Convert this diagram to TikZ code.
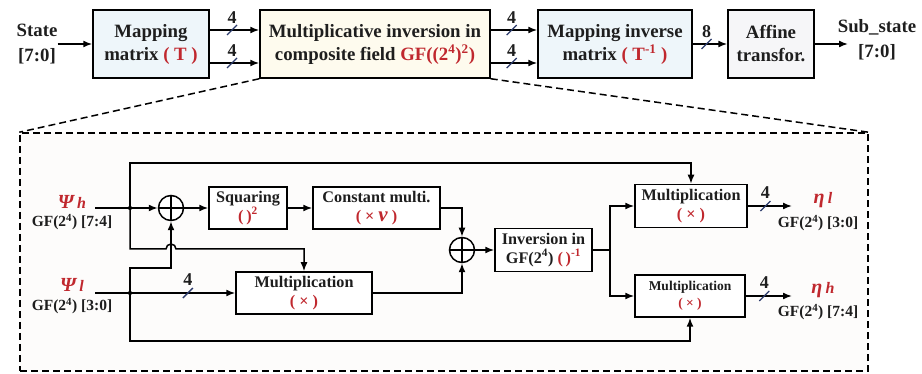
\documentclass[tikz,border=0pt]{standalone}
\usepackage{fontspec}
\setmainfont{Liberation Serif}
\usetikzlibrary{arrows.meta,calc}
\definecolor{myred}{HTML}{C0282E}
\definecolor{slashc}{HTML}{2B3A6B}
\definecolor{txt}{HTML}{1E1E1E}
\definecolor{fblue}{HTML}{EEF6FA}
\definecolor{fyel}{HTML}{FEFBEE}
\definecolor{fgray}{HTML}{F6F6F8}
\definecolor{fframe}{HTML}{FDFCFB}
\begin{document}
\begin{tikzpicture}[x=1pt,y=-1pt,
  topbox/.style={draw, line width=1.5pt, align=center, inner sep=0pt, text=txt, font=\fontsize{18.8}{23}\selectfont\bfseries},
  inbox/.style={draw, line width=1.5pt, align=center, inner sep=0pt, fill=white, text=txt, font=\fontsize{16.2}{18.5}\selectfont\bfseries},
  lbl/.style={align=center, inner sep=0pt, text=txt, font=\fontsize{18.8}{25}\selectfont\bfseries},
  gflbl/.style={inner sep=0pt, text=txt, font=\fontsize{15.5}{18}\selectfont\bfseries},
  greek/.style={inner sep=0pt, text=myred, font=\fontsize{20}{20}\selectfont\bfseries\itshape},
  wire/.style={line width=1.5pt},
  arr/.style={wire, -{Latex[length=9pt,width=7pt]}},
  xorn/.style={circle, draw, line width=1.5pt, minimum size=25pt, inner sep=0pt, fill=white,
     path picture={\draw[line width=1.5pt] (path picture bounding box.north) -- (path picture bounding box.south) (path picture bounding box.west) -- (path picture bounding box.east);}},
  junc/.style={circle, fill=black, inner sep=0pt, minimum size=4pt},
  busmark/.style={draw=slashc, line width=1.3pt},
  buslbl/.style={inner sep=0pt, text=txt, font=\fontsize{18}{18}\selectfont\bfseries},
  zoomfrm/.style={draw, line width=1.5pt, dash pattern=on 7pt off 4pt, fill=fframe},
  zoomdash/.style={line width=1.5pt, dash pattern=on 7pt off 4pt}
]
\useasboundingbox (0,0) rectangle (922,374);
% zoom frame
\node[zoomfrm, minimum width=848pt, minimum height=238pt] (zf) at (444,252) {};

% top row
\node[lbl] (st) at (37,44) {State\\{[7:0]}};
\node[topbox, fill=fblue, minimum width=116pt, minimum height=68pt] (T) at (151,44) {Mapping\\matrix \textcolor{myred}{( T )}};
\node[topbox, fill=fyel, minimum width=230pt, minimum height=68pt] (MI) at (375,44) {Multiplicative inversion in\\composite field \textcolor{myred}{GF((2\textsuperscript{4})\textsuperscript{2})}};
\node[topbox, fill=fblue, minimum width=154pt, minimum height=68pt] (TI) at (615,44) {Mapping inverse\\matrix \textcolor{myred}{( T\textsuperscript{-1} )}};
\node[topbox, fill=fgray, minimum width=86pt, minimum height=68pt] (AF) at (771,44) {Affine\\transfor.};
\node[lbl] (ss) at (877,40) {Sub\_state\\{[7:0]}};
\coordinate (ssin) at (848,44);
\coordinate (ya) at (0,30);
\coordinate (yb) at (0,63);

\draw[arr] (st.east) -- (T.west);
\draw[arr] (T.east |- ya) -- coordinate[pos=.45](s1) (MI.west |- ya);
\draw[arr] (T.east |- yb) -- coordinate[pos=.45](s2) (MI.west |- yb);
\draw[arr] (MI.east |- ya) -- coordinate[pos=.45](s7) (TI.west |- ya);
\draw[arr] (MI.east |- yb) -- coordinate[pos=.45](s8) (TI.west |- yb);
\draw[arr] (TI.east) -- coordinate[pos=.4](s3) (AF.west);
\draw[arr] (AF.east) -- (AF.east -| ssin);

\draw[zoomdash] (MI.south west) -- (zf.north west);
\draw[zoomdash] (MI.south east) -- (zf.north east);

% inner diagram
\node[greek] (ph) at (72,202) {Ψ\,{\fontsize{16}{16}\selectfont h}};
\node[gflbl] (phg) at (72,222) {GF(2\textsuperscript{4}) [7:4]};
\coordinate (phin) at (95,208);
\node[junc] (d1) at (130,208) {};
\node[xorn] (x1) at (171,208) {};
\node[inbox, minimum width=78pt, minimum height=42pt] (SQ) at (248,208) {Squaring\\\textcolor{myred}{(\,)\textsuperscript{2}}};
\node[inbox, minimum width=127pt, minimum height=42pt] (CM) at (376.5,208) {Constant multi.\\\textcolor{myred}{( × {\fontsize{21}{20}\selectfont\itshape ν} )}};
\node[xorn] (x2) at (462,250) {};
\node[inbox, minimum width=136pt, minimum height=42pt] (ML) at (304,293) {Multiplication\\\textcolor{myred}{( × )}};
\node[greek] (pl) at (72,285) {Ψ\,{\fontsize{16}{16}\selectfont l}};
\node[gflbl] (plg) at (72,306) {GF(2\textsuperscript{4}) [3:0]};
\coordinate (plin) at (95,293);
\node[junc] (d2) at (130,293) {};
\node[inbox, minimum width=97pt, minimum height=43pt] (INV) at (543.5,250) {Inversion in\\GF(2\textsuperscript{4}) \textcolor{myred}{(\,)\textsuperscript{-1}}};
\node[inbox, minimum width=112pt, minimum height=43pt] (MT) at (691,206) {Multiplication\\\textcolor{myred}{( × )}};
\node[inbox, minimum width=110pt, minimum height=42pt, font=\fontsize{13.5}{17}\selectfont\bfseries] (MB) at (690,296) {Multiplication\\\textcolor{myred}{( × )}};

\coordinate (oT) at (792,206);
\coordinate (oB) at (792,296);
\node[greek] (el) at (823,200) {η\,{\fontsize{16}{16}\selectfont l}};
\node[gflbl] (elg) at (818,223) {GF(2\textsuperscript{4}) [3:0]};
\node[greek] (eh) at (823,290) {η\,{\fontsize{16}{16}\selectfont h}};
\node[gflbl] (ehg) at (818,312) {GF(2\textsuperscript{4}) [7:4]};

\coordinate (ytop) at (0,163);
\coordinate (ymid) at (0,249);
\coordinate (ylow) at (0,268);
\coordinate (ybot) at (0,341);

\draw[wire] (phin) -- (d1.center);
\draw[arr] (d1.center) -- (x1);
\draw[arr] (x1) -- (SQ);
\draw[arr] (SQ) -- (CM);
\draw[arr] (CM.east) -| (x2.north);
\draw[arr] (d1.center) -- (d1 |- ytop) -| (MT.north);
\draw[arr] (d1.center) -- (d1 |- ymid) -- ($(x1 |- ymid)+(-5,0)$) arc[start angle=180,end angle=0,radius=5pt] -| (ML.north);
\draw[wire] (plin) -- (d2.center);
\draw[arr] (d2.center) -- coordinate[pos=.55](s4) (ML.west);
\draw[arr] (d2.center) -- (d2 |- ylow) -| (x1.south);
\draw[arr] (d2.center) -- (d2 |- ybot) -| (MB.south);
\draw[arr] (ML.east) -| (x2.south);
\draw[arr] (x2) -- (INV);
\coordinate (br) at ($(INV.east)+(17,0)$);
\draw[wire] (INV.east) -- (br);
\draw[arr] (br) |- (MT.west);
\draw[arr] (br) |- (MB.west);
\draw[arr] (MT.east) -- coordinate[pos=.4](s5) (MT.east -| oT);
\draw[arr] (MB.east) -- coordinate[pos=.4](s6) (MB.east -| oB);
\node[junc] (d1b) at (d1) {};
\node[junc] (d2b) at (d2) {};

% bus marks and widths
\foreach \s in {s1,s2,s3,s4,s5,s6,s7,s8}
  \draw[busmark] ($(\s)+(-5,5)$) -- ($(\s)+(5,-5)$);
\node[buslbl, above=6pt] (w1) at (s1) {4};
\node[buslbl, above=6pt] (w2) at (s2) {4};
\node[buslbl, above=6pt] (w7) at (s7) {4};
\node[buslbl, above=6pt] (w8) at (s8) {4};
\node[buslbl, above=6pt] (w3) at (s3) {8};
\node[buslbl, above=7pt] (w4) at (s4) {4};
\node[buslbl, above=7pt] (w5) at (s5) {4};
\node[buslbl, above=7pt] (w6) at (s6) {4};
\end{tikzpicture}
\end{document}
